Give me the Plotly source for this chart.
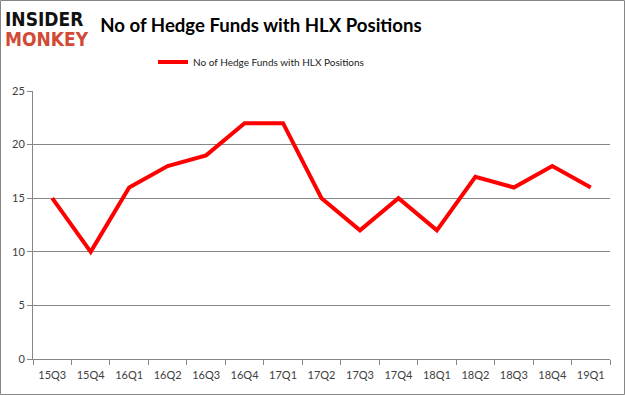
import plotly.graph_objects as go

quarters = ["15Q3", "15Q4", "16Q1", "16Q2", "16Q3", "16Q4", "17Q1", "17Q2",
            "17Q3", "17Q4", "18Q1", "18Q2", "18Q3", "18Q4", "19Q1"]
funds = [15, 10, 16, 18, 19, 22, 22, 15, 12, 15, 12, 17, 16, 18, 16]
series_name = "No of Hedge Funds with HLX Positions"
y_ticks = [0, 5, 10, 15, 20, 25]

W, H = 625, 395
L, R, T, B = 33, 15, 91, 36
pw, ph = W - L - R, H - T - B

def px(x):
    return (x - L) / pw

def py(y):
    return (H - B - y) / ph

fig = go.Figure()
fig.add_trace(go.Scatter(x=quarters, y=funds, mode="lines", name=series_name,
                         line=dict(color="#ff0000", width=4)))

fig.update_layout(
    width=W, height=H,
    margin=dict(l=L, r=R, t=T, b=B, autoexpand=False),
    paper_bgcolor="white", plot_bgcolor="white",
    font=dict(family="Lato, Open Sans, sans-serif", color="#404040", size=11),
    showlegend=True,
    legend=dict(orientation="h", x=px(153), y=py(62), xanchor="left", yanchor="middle",
                font=dict(size=10, color="#222222"), itemwidth=30,
                bgcolor="rgba(0,0,0,0)"),
    title=dict(text="<b>" + series_name + "</b>", x=261 / W, xanchor="center",
               y=1 - 25 / H, yanchor="middle",
               font=dict(size=18.6, color="#000000", family="Lato, Open Sans, sans-serif")),
    xaxis=dict(type="category", tickson="boundaries", ticks="outside", ticklen=5,
               tickcolor="#868686", showline=True, linecolor="#868686", linewidth=1,
               showgrid=False, tickfont=dict(size=11, color="#404040"), tickangle=0,
               ticklabelstandoff=6,
               range=[-0.5, len(quarters) - 0.5], automargin=False),
    yaxis=dict(range=[0, 25], tickvals=y_ticks, ticks="outside", ticklen=5,
               tickcolor="#868686", showline=True, linecolor="#868686", linewidth=1,
               showgrid=True, gridcolor="#868686", gridwidth=1, zeroline=False,
               tickfont=dict(size=11, color="#404040"), automargin=False),
)

# logo
fig.add_annotation(xref="paper", yref="paper", x=px(3), y=py(19), xanchor="left",
                   yanchor="middle", showarrow=False,
                   text="<b>INSIDER</b>",
                   font=dict(family="DejaVu Sans Condensed", size=19, color="#111111"))
fig.add_annotation(xref="paper", yref="paper", x=px(3), y=py(39), xanchor="left",
                   yanchor="middle", showarrow=False,
                   text="<b>MONKEY</b>",
                   font=dict(family="DejaVu Sans Condensed", size=19, color="#d24a35"))

# border
fig.add_shape(type="rect", xref="paper", yref="paper",
              x0=px(0.5), x1=px(W - 0.5), y0=py(H - 0.5), y1=py(0.5),
              line=dict(color="#868686", width=1), layer="below")

fig.write_html("out.html", config={"displayModeBar": False},
               post_script="document.body.style.margin='0';document.body.style.overflow='hidden';")
